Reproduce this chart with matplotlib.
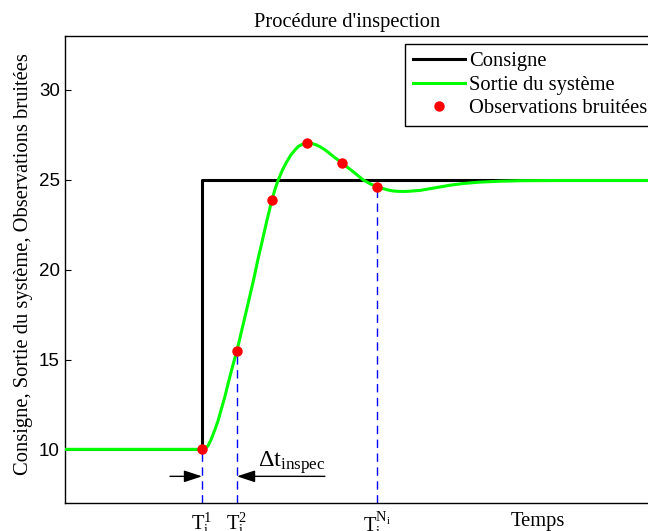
import matplotlib
matplotlib.use("Agg")
import matplotlib.pyplot as plt

# ---- data ----
t_consigne = [-3.9, 0.0, 0.0, 13.0]
v_consigne = [10.0, 10.0, 25.0, 25.0]

t_sortie = [-3.9, 0.0, 0.05, 0.1, 0.17, 0.25, 0.37, 0.46, 0.56, 0.65, 0.75, 0.87,
            1.0, 1.12, 1.23, 1.35, 1.47, 1.59, 1.71, 1.85, 2.0, 2.09, 2.18, 2.3,
            2.42, 2.54, 2.66, 2.75, 2.85, 2.94, 3.03, 3.14, 3.25, 3.38, 3.51, 3.63,
            3.75, 3.88, 4.0, 4.2, 4.37, 4.6, 4.8, 5.0, 5.15, 5.3, 5.45, 5.57,
            5.75, 5.9, 6.23, 6.5, 6.8, 7.09, 7.5, 7.94, 8.5, 9.09, 10.2, 13.0]
v_sortie = [10.0, 10.0, 10.0, 10.05, 10.2, 10.5, 11.1, 11.6, 12.3, 12.9, 13.7, 14.6,
            15.5, 16.5, 17.4, 18.4, 19.4, 20.5, 21.5, 22.7, 23.9, 24.5, 25.0, 25.55,
            26.0, 26.38, 26.67, 26.85, 26.96, 27.02, 27.04, 27.02, 26.95, 26.83, 26.67, 26.49,
            26.3, 26.11, 25.93, 25.63, 25.37, 25.0, 24.78, 24.61, 24.52, 24.44, 24.38, 24.36,
            24.35, 24.36, 24.41, 24.5, 24.6, 24.7, 24.8, 24.87, 24.92, 24.95, 24.96, 24.96]

t_obs = [0, 1, 2, 3, 4, 5]
v_obs = [10.0, 15.5, 23.9, 27.05, 25.95, 24.6]

inspect_idx = [0, 1, 5]
xtick_labels = [r'$\mathrm{T}_\mathrm{i}^\mathrm{1}$',
                r'$\mathrm{T}_\mathrm{i}^\mathrm{2}$',
                r'$\mathrm{T}_\mathrm{i}^{\mathrm{N}_\mathrm{i}}$']

plt.rcParams['font.family'] = ['Liberation Serif', 'DejaVu Serif']
plt.rcParams['mathtext.fontset'] = 'custom'
plt.rcParams['mathtext.rm'] = 'Liberation Serif'
plt.rcParams['mathtext.it'] = 'Liberation Serif:italic'

FS = 14.8
W, H = 648, 531
fig = plt.figure(figsize=(W / 100, H / 100), dpi=100)
left, right, top, bottom = 65.3, 657.0, 36.0, 503.3
ax = fig.add_axes([left / W, 1 - bottom / H, (right - left) / W, (bottom - top) / H])

ax.plot(t_consigne, v_consigne, color='black', lw=2.2, label='Consigne', zorder=3)
ax.plot(t_sortie, v_sortie, color=(0, 1, 0), lw=2.2, label='Sortie du système', zorder=4,
        solid_joinstyle='round')
ax.plot(t_obs, v_obs, 'o', color='red', ms=7.5, mec='none', label='Observations bruitées', zorder=5)

ymin, ymax = 7, 33
for i in inspect_idx:
    ax.vlines(t_obs[i], ymin, v_obs[i], colors='blue', lw=1.0,
              linestyles=(0, (6, 4)), zorder=2)

ax.set_xlim(-3.906, 13.0)
ax.set_ylim(ymin, ymax)

ax.set_yticks([10, 15, 20, 25, 30])
ax.tick_params(axis='y', direction='in', length=4, width=0.8, pad=4, labelsize=13.5)
for lab in ax.get_yticklabels():
    lab.set_fontfamily('Liberation Sans')

ax.set_xticks([t_obs[i] for i in inspect_idx])
ax.set_xticklabels(xtick_labels)
ax.tick_params(axis='x', length=0, pad=5, labelsize=FS)

ax.set_xlabel('Temps', fontsize=FS)
ax.xaxis.set_label_coords(0.799, -0.018)

ax.set_ylabel('Consigne, Sortie du système, Observations bruitées', fontsize=FS)
ax.yaxis.set_label_coords(-0.0546, 0.512)

ax.set_title("Procédure d'inspection", fontsize=FS, x=0.476, pad=6.5)

for s in ax.spines.values():
    s.set_linewidth(1.0)

# delta t annotation
arr_y = 8.5
astyle = '-|>,head_length=1.0,head_width=0.33'
ax.annotate('', xy=(t_obs[0], arr_y), xytext=(-0.914, arr_y),
            arrowprops=dict(arrowstyle=astyle, color='black', lw=1.0,
                            shrinkA=0, shrinkB=0, mutation_scale=11))
ax.annotate('', xy=(t_obs[1], arr_y), xytext=(3.51, arr_y),
            arrowprops=dict(arrowstyle=astyle, color='black', lw=1.0,
                            shrinkA=0, shrinkB=0, mutation_scale=11))
ax.text(1.6, 9.06, r'$\Delta\mathrm{t}_{\mathrm{inspec}}$', fontsize=17.5,
        ha='left', va='baseline')

leg = ax.legend(loc='upper left', bbox_to_anchor=(405 / W, 1 - 44 / H),
                bbox_transform=fig.transFigure, fontsize=FS, frameon=True,
                fancybox=False, framealpha=1, edgecolor='black', borderaxespad=0,
                borderpad=0.38, labelspacing=0.2, handlelength=2.55,
                handletextpad=0.2, numpoints=1)
leg.get_frame().set_linewidth(1.0)

fig.savefig('out.png', dpi=100)
